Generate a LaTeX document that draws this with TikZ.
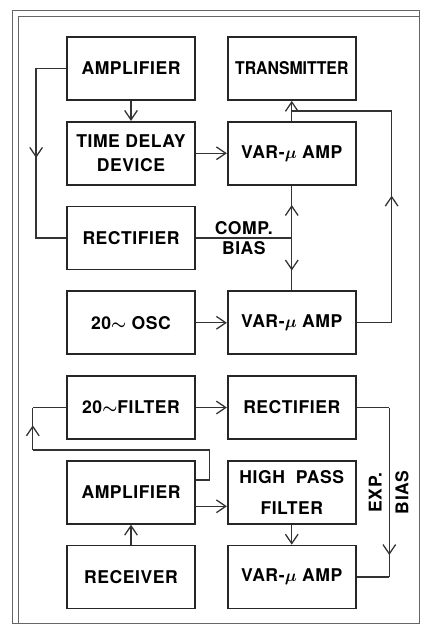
\documentclass[tikz,border=0pt]{standalone}
\usepackage{fontspec}
\setmainfont{TeX Gyre Heros}[LetterSpace=3]
\usetikzlibrary{arrows.meta, positioning, calc, decorations.markings}

\begin{document}
\begin{tikzpicture}[
    >={Straight Barb[length=2.8mm, width=3.8mm]},
    block/.style={rectangle, draw=black!85, line width=1.5pt, minimum width=3.84cm, minimum height=1.89cm, align=center, inner sep=1pt, font=\fontsize{15}{21}\selectfont\bfseries\boldmath},
    wire/.style={draw=black!80, line width=1.1pt},
    midarrow/.style={postaction={decorate}, decoration={markings, mark=at position #1 with {\arrow{>}}}},
    lbl/.style={font=\fontsize{15}{17}\selectfont\bfseries, inner sep=2pt},
    frame/.style={draw=black!60, line width=0.6pt}
]
\useasboundingbox (0,0) rectangle (12.63,-18.84);
\draw[frame] (0.36,-0.3) rectangle (12.57,-18.69);
\draw[frame] (0.54,-18.69) -- (0.54,-0.48) -- (12.57,-0.48);

\node[block] (amp1) at (3.93,-2.055) {AMPLIFIER};
\node[block, below=0.6cm of amp1] (tdd) {TIME DELAY\\DEVICE};
\node[block, below=0.6cm of tdd] (rect1) {RECTIFIER};
\node[block, below=0.6cm of rect1] (osc) {20$\sim$ OSC};
\node[block, below=0.6cm of osc] (filt) {20$\sim$FILTER};
\node[block, below=0.6cm of filt] (amp2) {AMPLIFIER};
\node[block, below=0.6cm of amp2] (recv) {RECEIVER};
\node[block, right=0.93cm of amp1] (trans) {{\addfontfeature{LetterSpace=0, FakeStretch=0.9}TRANSMITTER}};
\node[block, right=0.93cm of tdd] (var1) {VAR-$\mu$ AMP};
\node[block, right=0.93cm of osc] (var2) {VAR-$\mu$ AMP};
\node[block, right=0.93cm of filt] (rect2) {RECTIFIER};
\node[block, right=0.93cm of amp2] (hpf) {HIGH \ PASS\\[5pt]FILTER};
\node[block, right=0.93cm of recv] (var3) {VAR-$\mu$ AMP};

\draw[wire, ->] (amp1) -- (tdd);
\draw[wire, ->] (tdd) -- (var1);
\draw[wire, ->] (var1) -- (trans);
\draw[wire, midarrow=0.52] (amp1.west) -- ++(-0.9,0) |- (rect1.west);

\coordinate (cb) at (rect1.east -| var1.south);
\draw[wire] (rect1.east) -- node[lbl, above] {COMP.} node[lbl, below] {BIAS} (cb);
\draw[wire, midarrow=0.63] (cb) -- (var1.south);
\draw[wire, midarrow=0.62] (cb) -- (var2.north);
\draw[wire, ->] (osc) -- (var2);

\coordinate (tj) at ($(var1.north)+(0,0.3)$);
\draw[wire] (var2.east) -- ++(1.05,0) coordinate (fbr);
\draw[wire, midarrow=0.6] (fbr) -- (fbr |- tj);
\draw[wire] (fbr |- tj) -- (tj);

\draw[wire, ->] (filt) -- (rect2);
\coordinate (a2b) at ($(amp2.east)+(0,-0.42)$);
\draw[wire, ->] (a2b) -- (a2b -| hpf.west);
\draw[wire, ->] (hpf) -- (var3);
\draw[wire, ->] (recv) -- (amp2);

\coordinate (a2t) at ($(amp2.north east)+(0,-0.6)$);
\coordinate (fk) at ($(amp2.north)+(0,0.3)$);
\coordinate (fl) at ($(filt.west)+(-1.0,0)$);
\draw[wire] (a2t) -- ++(0.4,0) |- (fl |- fk);
\draw[wire, midarrow=0.58] (fl |- fk) -- (fl);
\draw[wire] (fl) -- (filt.west);

\draw[wire] (rect2.east) -- ++(0.98,0) coordinate (eb);
\draw[wire, midarrow=0.87] (eb) -- (eb |- var3.east);
\draw[wire] (eb |- var3.east) -- (var3.east);
\node[lbl, rotate=90] (expl) at ($(eb |- hpf.east)+(-0.42,0)$) {EXP.};
\node[lbl, rotate=90] (biasl) at ($(eb |- hpf.east)+(0.38,0)$) {BIAS};
\end{tikzpicture}
\end{document}
